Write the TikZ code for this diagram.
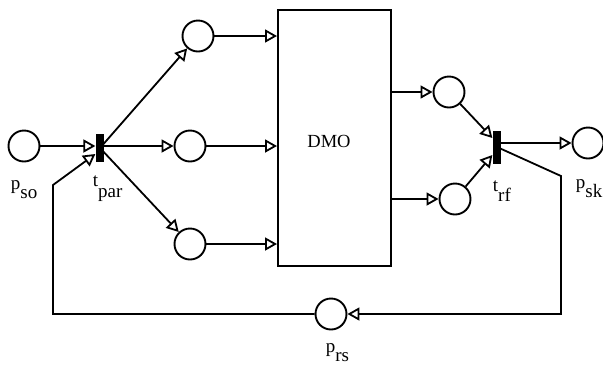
\documentclass[tikz,border=0pt]{standalone}
\usepackage{fontspec}
\setmainfont{Liberation Serif}
\usetikzlibrary{arrows.meta,calc}
\begin{document}
\begin{tikzpicture}[x=1pt,y=-1pt,
  line width=1.8pt,
  place/.style={circle,draw,line width=1.9pt,minimum size=31pt,inner sep=0pt},
  trans/.style={rectangle,fill=black,minimum width=7.5pt,minimum height=28pt,inner sep=0pt},
  arc/.style={-{Triangle[open,length=12pt,width=13pt,line width=1.8pt]}},
  lbl/.style={anchor=base west,inner sep=0pt,font=\fontsize{19}{19}\selectfont},
]
\useasboundingbox (0,0) rectangle (603,368);
% places and transitions
\node[place] (pso) at (24,146) {};
\node[trans] (tpar) at (100,148) {};
\node[place] (pa) at (198,36) {};
\node[place] (pb) at (190,146) {};
\node[place] (pc) at (190,244) {};
\node[draw,line width=1.9pt,minimum width=113pt,minimum height=256pt,inner sep=0pt,anchor=north west] (dmo) at (277,9) {};
\node[inner sep=0pt,font=\fontsize{18.5}{18.5}\selectfont] (dmotext) at (329,141) {DMO};
\node[place] (pd) at (449,92) {};
\node[place] (pe) at (455,199) {};
\node[trans,minimum height=33pt] (trf) at (497,147) {};
\node[place] (psk) at (588,143) {};
\node[place] (prs) at (331,314) {};
% corner points
\coordinate (c1) at (561,176);
\coordinate (c2) at (561,314);
\coordinate (c3) at (53,314);
\coordinate (c4) at (53,185);
% arcs
\draw[arc] (pso) -- (pso -| tpar.west);
\draw[arc] (tpar.center) -- (pa);
\draw[arc] (tpar.center |- pb) -- (pb);
\draw[arc] (tpar.center) -- (pc);
\draw[arc] (pa) -- (pa -| dmo.west);
\draw[arc] (pb) -- (pb -| dmo.west);
\draw[arc] (pc) -- (pc -| dmo.west);
\draw[arc] (dmo.east |- pd) -- (pd);
\draw[arc] (dmo.east |- pe) -- (pe);
\draw[arc] (pd) -- ($(trf.west)+(0,-9)$);
\draw[arc] (pe) -- ($(trf.west)+(0,8)$);
\draw[arc] (trf.center |- psk) -- (psk);
\draw[arc] (trf.center) -- (c1) -- (c2) -- (prs);
\draw[arc] (prs) -- (c3) -- (c4) -- ($(tpar.west)+(0,6)$);
% redraw bars on top
\node[trans] at (tpar) {};
\node[trans,minimum height=33pt] at (trf) {};
% labels
\node[lbl] (lso) at (10,189) {p\raisebox{-9pt}{so}};
\node[lbl] (lpar) at (92,186) {t\raisebox{-11pt}{par}};
\node[lbl] (lrf) at (492,191) {t\raisebox{-10pt}{rf}};
\node[lbl] (lsk) at (575,188) {p\raisebox{-9pt}{sk}};
\node[lbl] (lrs) at (325,352) {p\raisebox{-9pt}{rs}};
\end{tikzpicture}
\end{document}
